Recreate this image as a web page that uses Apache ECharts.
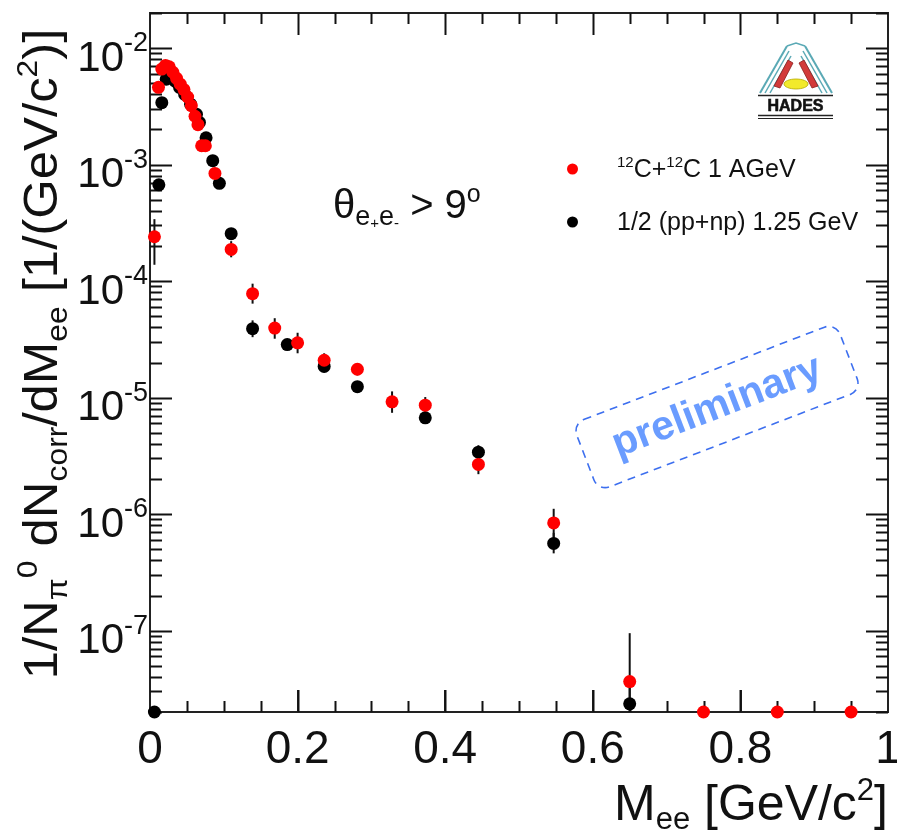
<!DOCTYPE html>
<html>
<head>
<meta charset="utf-8">
<script src="https://cdn.jsdelivr.net/npm/echarts@6/dist/echarts.min.js"></script>
<style>
  html, body { margin: 0; padding: 0; background: #ffffff; }
  #chart { width: 897px; height: 833px; }
</style>
</head>
<body>
<div id="chart"></div>
<script>
const FONT = '"Liberation Sans", Arial, Helvetica, sans-serif';

// Dielectron invariant-mass spectra normalised to the pi0 multiplicity.
// 12C+12C at 1 AGeV
const massCC  = [0.006, 0.0115, 0.016, 0.021, 0.026, 0.031, 0.036, 0.041, 0.046, 0.051,
                 0.056, 0.061, 0.065, 0.070, 0.075, 0.088, 0.110, 0.139, 0.169, 0.200,
                 0.236, 0.281, 0.328, 0.373, 0.445, 0.547, 0.650, 0.750, 0.850, 0.950];
const yieldCC = [2.4e-4, 4.6e-3, 6.6e-3, 7.1e-3, 6.9e-3, 6.2e-3, 5.5e-3, 4.9e-3, 4.4e-3, 3.8e-3,
                 3.2e-3, 2.6e-3, 2.2e-3, 1.45e-3, 1.45e-3, 8.4e-4, 1.87e-4, 7.8e-5, 3.95e-5, 2.95e-5,
                 2.09e-5, 1.75e-5, 9.2e-6, 8.6e-6, 2.67e-6, 8.4e-7, 3.65e-8, 2e-8, 2e-8, 2e-8];

// 1/2 (pp+np) at 1.25 GeV
const massNN  = [0.006, 0.012, 0.016, 0.022, 0.028, 0.034, 0.040, 0.047, 0.055, 0.063,
                 0.067, 0.076, 0.085, 0.094, 0.110, 0.139, 0.186, 0.236, 0.281, 0.373,
                 0.445, 0.547, 0.650];
const yieldNN = [2e-8, 6.7e-4, 3.4e-3, 5.4e-3, 5.6e-3, 5.2e-3, 4.6e-3, 4.0e-3, 3.3e-3, 2.7e-3,
                 2.3e-3, 1.7e-3, 1.08e-3, 6.9e-4, 2.55e-4, 3.9e-5, 2.85e-5, 1.85e-5, 1.24e-5, 6.7e-6,
                 3.4e-6, 5.6e-7, 2.35e-8];

// Error bars as [mass, lower, upper]
const errCC = [
  [0.006, 1.38e-4, 3.4e-4], [0.110, 1.6e-4, 2.2e-4], [0.139, 6.4e-5, 9.5e-5],
  [0.169, 3.2e-5, 4.8e-5], [0.200, 2.4e-5, 3.6e-5], [0.236, 1.8e-5, 2.4e-5],
  [0.281, 1.55e-5, 1.97e-5], [0.328, 7.4e-6, 1.13e-5], [0.373, 7.3e-6, 1.01e-5],
  [0.445, 2.2e-6, 3.2e-6], [0.547, 6.3e-7, 1.11e-6], [0.650, 2e-8, 9.5e-8]
];
const errNN = [
  [0.139, 3.3e-5, 4.6e-5], [0.236, 1.65e-5, 2.05e-5], [0.445, 2.9e-6, 3.9e-6],
  [0.547, 4.6e-7, 6.9e-7], [0.650, 2e-8, 3.5e-8]
];

// Axis ranges and decade labels
const xRange = [0, 1];
const yRange = [2e-8, 2e-2];
const yDecades = [-7, -6, -5, -4, -3, -2];

const seriesNames = ['CC', 'NN'];

// Frame tick marks: log axis 1..9 x 10^n, mass axis every 0.05 (long every 0.2)
const yTicks = [];
for (let e = -8; e <= -2; e++) {
  for (let k = 1; k <= 9; k++) {
    const v = k * Math.pow(10, e);
    if (v >= yRange[0] * 0.999 && v <= yRange[1] * 1.001) yTicks.push({ v: v, len: k === 1 ? 22 : 12 });
  }
}
const xTicks = [];
for (let i = 1; i < 20; i++) {
  xTicks.push({ v: i * 0.05, len: i % 4 === 0 ? 22 : 11 });
}

const frameColor = '#222';

function errSeries(name, data) {
  return {
    name: name, type: 'custom', silent: true, clip: false, z: 2,
    data: data,
    renderItem: function (params, api) {
      const p1 = api.coord([api.value(0), api.value(1)]);
      const p2 = api.coord([api.value(0), api.value(2)]);
      return { type: 'line', shape: { x1: p1[0], y1: p1[1], x2: p2[0], y2: p2[1] }, style: { stroke: '#111', lineWidth: 2 } };
    }
  };
}

const chart = echarts.init(document.getElementById('chart'), null, { renderer: 'canvas' });

const graphics = [
  // y-axis title
  {
    type: 'text', x: 44, y: 354, rotation: Math.PI / 2, scaleX: 1.06,
    style: {
      text: '{t|1/N}{s|π}{u|0}{t| dN}{s|corr}{t|/dM}{s|ee}{t| [1/(GeV/c}{u|2}{t|)]}',
      align: 'center', verticalAlign: 'middle',
      rich: {
        t: { fontFamily: FONT, fontSize: 48, fill: '#111', lineHeight: 60, verticalAlign: 'middle' },
        s: { fontFamily: FONT, fontSize: 30, fill: '#111', lineHeight: 30, verticalAlign: 'bottom' },
        u: { fontFamily: FONT, fontSize: 30, fill: '#111', lineHeight: 30, verticalAlign: 'top' }
      }
    }
  },
  // x-axis title
  {
    type: 'text', right: 9, bottom: -3,
    style: {
      text: '{t|M}{s|ee}{t| [GeV/c}{u|2}{t|]}',
      rich: {
        t: { fontFamily: FONT, fontSize: 50, fill: '#111', lineHeight: 60, verticalAlign: 'middle' },
        s: { fontFamily: FONT, fontSize: 31, fill: '#111', lineHeight: 30, verticalAlign: 'bottom' },
        u: { fontFamily: FONT, fontSize: 31, fill: '#111', lineHeight: 30, verticalAlign: 'top' }
      }
    }
  },
  // opening-angle cut
  {
    type: 'text', x: 333, y: 183,
    style: {
      text: '{t|θ}{s|e}{v|+}{s|e}{v|-}{t| > 9}{o|o}',
      rich: {
        t: { fontFamily: FONT, fontSize: 40, fill: '#111', lineHeight: 48, verticalAlign: 'middle' },
        s: { fontFamily: FONT, fontSize: 27, fill: '#111', lineHeight: 22, verticalAlign: 'bottom' },
        v: { fontFamily: FONT, fontSize: 15, fill: '#111', lineHeight: 48, verticalAlign: 'bottom' },
        o: { fontFamily: FONT, fontSize: 25, fill: '#111', lineHeight: 40, verticalAlign: 'top' }
      }
    }
  },
  // "preliminary" stamp
  {
    type: 'group', x: 717, y: 407, rotation: 21 * Math.PI / 180,
    children: [
      {
        type: 'rect', shape: { x: -141, y: -36, width: 282, height: 72, r: 12 },
        style: { fill: 'none', stroke: '#3d6fef', lineWidth: 1.6, lineDash: [8, 6] }
      },
      {
        type: 'text', x: 0, y: 0,
        style: {
          text: 'preliminary', align: 'center', verticalAlign: 'middle',
          fontFamily: FONT, fontSize: 41, fontWeight: 'bold', fill: '#6a9cff'
        }
      }
    ]
  },
  // HADES emblem
  {
    type: 'group', x: 0, y: 0,
    children: [
      { type: 'polyline', shape: { points: [[760, 93], [787, 46]] }, style: { stroke: '#5aa9b5', lineWidth: 2 } },
      { type: 'polyline', shape: { points: [[765, 93], [789, 51]] }, style: { stroke: '#5aa9b5', lineWidth: 1.5 } },
      { type: 'polyline', shape: { points: [[770, 93], [791, 56]] }, style: { stroke: '#5aa9b5', lineWidth: 1.5 } },
      { type: 'polyline', shape: { points: [[832, 93], [805, 46]] }, style: { stroke: '#5aa9b5', lineWidth: 2 } },
      { type: 'polyline', shape: { points: [[827, 93], [803, 51]] }, style: { stroke: '#5aa9b5', lineWidth: 1.5 } },
      { type: 'polyline', shape: { points: [[822, 93], [801, 56]] }, style: { stroke: '#5aa9b5', lineWidth: 1.5 } },
      { type: 'polyline', shape: { points: [[787, 46], [796, 43], [805, 46]] }, style: { stroke: '#5aa9b5', lineWidth: 1.5, fill: 'none' } },
      { type: 'polygon', shape: { points: [[774, 86], [788, 60], [793, 63], [780, 88]] }, style: { fill: '#d23a3a', stroke: '#8a1e1e', lineWidth: 0.8 } },
      { type: 'polygon', shape: { points: [[818, 86], [804, 60], [799, 63], [812, 88]] }, style: { fill: '#d23a3a', stroke: '#8a1e1e', lineWidth: 0.8 } },
      { type: 'ellipse', shape: { cx: 796, cy: 84, rx: 12, ry: 5 }, style: { fill: '#f2ea2a', stroke: '#b5a800', lineWidth: 0.8 } },
      { type: 'line', shape: { x1: 758, y1: 95.5, x2: 833, y2: 95.5 }, style: { stroke: '#222', lineWidth: 1.5 } },
      {
        type: 'text', x: 795.5, y: 107,
        style: { text: 'HADES', align: 'center', verticalAlign: 'middle', fontFamily: FONT, fontSize: 16, fontWeight: 'bold', fill: '#111', stroke: '#111', lineWidth: 0.6 }
      },
      { type: 'line', shape: { x1: 758, y1: 115.5, x2: 833, y2: 115.5 }, style: { stroke: '#222', lineWidth: 1.5 } },
      { type: 'line', shape: { x1: 758, y1: 118.5, x2: 833, y2: 118.5 }, style: { stroke: '#222', lineWidth: 1.2 } }
    ]
  }
];

function buildOption(tickGraphics) {
  return {
    backgroundColor: '#ffffff',
    animation: false,
    // grid border draws the closed frame
    grid: { show: true, left: 150, right: 9, top: 13, bottom: 121, borderColor: frameColor, borderWidth: 2,
            backgroundColor: 'transparent', containLabel: false, outerBoundsMode: 'none' },
    xAxis: {
      type: 'value', min: xRange[0], max: xRange[1], interval: 0.2,
      axisLine: { show: true, onZero: false, lineStyle: { color: frameColor, width: 2 } },
      axisTick: { show: true, inside: true, length: 22, lineStyle: { color: frameColor, width: 2 } },
      splitLine: { show: false },
      axisLabel: {
        margin: 15, color: '#111', fontFamily: FONT, fontSize: 46,
        formatter: v => String(+v.toFixed(1))
      }
    },
    yAxis: {
      type: 'log', logBase: 10, min: yRange[0], max: yRange[1],
      axisLine: { show: true, onZero: false, lineStyle: { color: frameColor, width: 2 } },
      axisTick: { show: false },
      splitLine: { show: false },
      axisLabel: {
        margin: 2, showMinLabel: false, showMaxLabel: false,
        fontFamily: FONT, color: '#111',
        formatter: function (v) {
          const e = Math.round(Math.log10(v));
          if (Math.abs(Math.log10(v) - e) > 1e-6 || yDecades.indexOf(e) < 0) return '';
          return '{z| }\n{b|10}{e|' + e + '}';
        },
        rich: {
          z: { fontSize: 8, lineHeight: 14 },
          b: { fontFamily: FONT, fontSize: 42, color: '#111', lineHeight: 50, verticalAlign: 'bottom' },
          e: { fontFamily: FONT, fontSize: 27, color: '#111', lineHeight: 50, verticalAlign: 'top', padding: [0, 0, 14, 0] }
        }
      }
    },
    legend: {
      orient: 'vertical', left: 562, top: 150, itemGap: 28,
      itemWidth: 11, itemHeight: 11, icon: 'circle',
      data: [
        { name: seriesNames[0], itemStyle: { color: '#ff0000', opacity: 1 } },
        { name: seriesNames[1], itemStyle: { color: '#000000', opacity: 1 } }
      ],
      formatter: function (name) {
        if (name === 'CC') return '{p|}{s|12}{t|C+}{s|12}{t|C 1 AGeV}';
        return '{p|}{t|1/2 (pp+np) 1.25 GeV}';
      },
      textStyle: {
        fontFamily: FONT,
        rich: {
          p: { width: 34 },
          t: { fontFamily: FONT, fontSize: 25, color: '#111', lineHeight: 28, verticalAlign: 'bottom' },
          s: { fontFamily: FONT, fontSize: 15, color: '#111', lineHeight: 28, verticalAlign: 'top' }
        }
      }
    },
    series: [
      errSeries('errNN', errNN),
      errSeries('errCC', errCC),
      {
        name: seriesNames[1], type: 'scatter', symbol: 'circle', symbolSize: 13, clip: false, z: 3,
        itemStyle: { color: '#000000', opacity: 1 },
        data: massNN.map((m, i) => [m, yieldNN[i]])
      },
      {
        name: seriesNames[0], type: 'scatter', symbol: 'circle', symbolSize: 13, clip: false, z: 4,
        itemStyle: { color: '#ff0000', opacity: 1 },
        data: massCC.map((m, i) => [m, yieldCC[i]])
      }
    ],
    // tick marks first, so they are painted early
    graphic: tickGraphics.concat(graphics)
  };
}

chart.setOption(buildOption([]));

// Frame tick marks placed through the chart's own axis scales
const tickLines = [];
try {
  const toPx = (x, y) => chart.convertToPixel({ xAxisIndex: 0, yAxisIndex: 0 }, [x, y]);
  const tickLine = (x1, y1, x2, y2) => ({
    type: 'line', silent: true, z: 1,
    shape: { x1: Math.round(x1), y1: Math.round(y1) + 0.5, x2: Math.round(x2), y2: Math.round(y2) + 0.5 },
    style: { stroke: '#111', lineWidth: 2 }
  });
  const vLine = (x1, y1, x2, y2) => ({
    type: 'line', silent: true, z: 1,
    shape: { x1: Math.round(x1) + 0.5, y1: Math.round(y1), x2: Math.round(x2) + 0.5, y2: Math.round(y2) },
    style: { stroke: '#111', lineWidth: 2 }
  });
  yTicks.forEach(t => {
    const l = toPx(xRange[0], t.v), r = toPx(xRange[1], t.v);
    if (!l || !r || !isFinite(l[1])) return;
    tickLines.push(tickLine(l[0], l[1], l[0] + t.len, l[1]));
    tickLines.push(tickLine(r[0], r[1], r[0] - t.len, r[1]));
  });
  xTicks.forEach(t => {
    const b = toPx(t.v, yRange[0]), tp = toPx(t.v, yRange[1]);
    if (!b || !tp || !isFinite(b[0])) return;
    tickLines.push(vLine(b[0], b[1], b[0], b[1] - t.len));
    tickLines.push(vLine(tp[0], tp[1], tp[0], tp[1] + t.len));
  });
} catch (err) { /* keep the chart without frame ticks */ }

chart.setOption(buildOption(tickLines), true);
</script>
</body>
</html>
